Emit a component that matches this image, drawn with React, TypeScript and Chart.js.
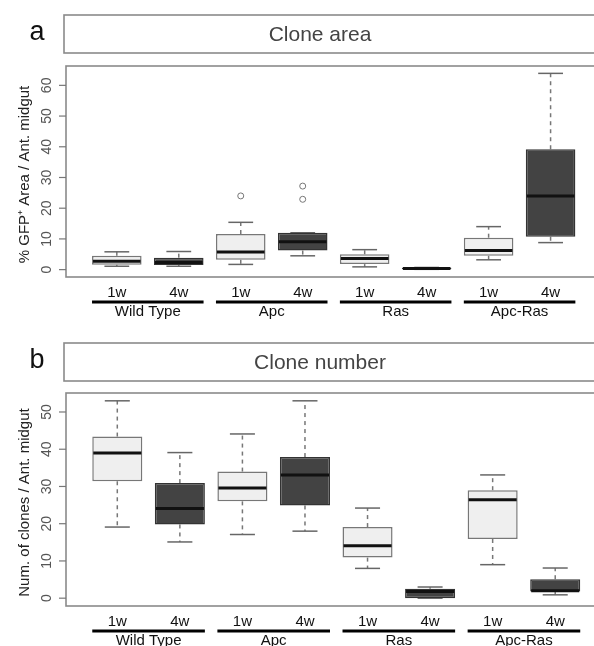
import React, { useEffect, useRef } from "react";
import { Chart, registerables } from "chart.js";
Chart.register(...registerables);

// ---------- data ----------
const groups = ["Wild Type", "Apc", "Ras", "Apc-Ras"];
const times = ["1w", "4w"];
const positions = [1, 2, 3, 4, 5, 6, 7, 8];

// Panel a: Clone area (% GFP+ area)
const areaLow = [1.1, 1.1, 1.7, 4.5, 0.9, 0.1, 3.2, 8.8];
const areaQ1 = [1.6, 1.5, 3.2, 6.2, 1.8, 0.2, 4.5, 10.7];
const areaMed = [2.7, 2.3, 5.7, 9.1, 3.6, 0.4, 6.2, 24.0];
const areaQ3 = [4.5, 3.9, 11.6, 12.0, 5.0, 0.6, 10.4, 39.2];
const areaHigh = [5.8, 5.9, 15.4, 12.0, 6.5, 0.7, 14.0, 63.9];
const areaOutlierPos = [3, 4, 4];
const areaOutlierVal = [24.0, 22.9, 27.2];
const areaTicks = [0, 10, 20, 30, 40, 50, 60];

// Panel b: Clone number
const numLow = [19.1, 15.1, 17.1, 18.0, 8.0, 0.0, 9.0, 0.9];
const numQ1 = [31.4, 19.8, 26.0, 24.9, 10.9, 0.0, 15.9, 1.8];
const numMed = [39.0, 24.1, 29.6, 33.1, 14.1, 1.8, 26.4, 2.0];
const numQ3 = [43.4, 30.9, 34.0, 37.9, 19.1, 2.5, 29.0, 5.1];
const numHigh = [53.0, 39.1, 44.1, 53.0, 24.2, 3.0, 33.1, 8.1];
const numOutlierPos: number[] = [];
const numOutlierVal: number[] = [];
const numTicks = [0, 10, 20, 30, 40, 50];

// ---------- styling ----------
const W = 594;
const H = 328;
const FONT = "'Liberation Sans', Arial, Helvetica, sans-serif";
const LIGHT = "#efefef";
const DARK = "#434343";

type Panel = {
  letter: string;
  title: string;
  yTitle: string;
  low: number[];
  q1: number[];
  med: number[];
  q3: number[];
  high: number[];
  outPos: number[];
  outVal: number[];
  ticks: number[];
  yMin: number;
  yMax: number;
  plotTop: number;
  plotBottom: number;
};

const panelA: Panel = {
  letter: "a",
  title: "Clone area",
  yTitle: "% GFP\u207A Area / Ant. midgut",
  low: areaLow,
  q1: areaQ1,
  med: areaMed,
  q3: areaQ3,
  high: areaHigh,
  outPos: areaOutlierPos,
  outVal: areaOutlierVal,
  ticks: areaTicks,
  yMin: -2.4,
  yMax: 66.3,
  plotTop: 66,
  plotBottom: 277,
};

const panelB: Panel = {
  letter: "b",
  title: "Clone number",
  yTitle: "Num. of clones / Ant. midgut",
  low: numLow,
  q1: numQ1,
  med: numMed,
  q3: numQ3,
  high: numHigh,
  outPos: numOutlierPos,
  outVal: numOutlierVal,
  ticks: numTicks,
  yMin: -2.1,
  yMax: 55.1,
  plotTop: 65,
  plotBottom: 278,
};

function makePlugin(p: Panel) {
  const line = (ctx: CanvasRenderingContext2D, x1: number, y1: number, x2: number, y2: number) => {
    ctx.beginPath();
    ctx.moveTo(x1, y1);
    ctx.lineTo(x2, y2);
    ctx.stroke();
  };
  return {
    id: "boxDecor",
    beforeDatasetsDraw(chart: any) {
      const ctx: CanvasRenderingContext2D = chart.ctx;
      const xs = chart.scales.x;
      const ys = chart.scales.y;
      const meta = chart.getDatasetMeta(0);
      ctx.save();
      positions.forEach((pos, i) => {
        const bar = meta.data[i];
        const half = bar.width / 2;
        const cx = xs.getPixelForValue(pos);
        const yLo = ys.getPixelForValue(p.low[i]);
        const yQ1 = ys.getPixelForValue(p.q1[i]);
        const yQ3 = ys.getPixelForValue(p.q3[i]);
        const yHi = ys.getPixelForValue(p.high[i]);
        ctx.strokeStyle = "#777";
        ctx.lineWidth = 1.5;
        ctx.setLineDash([4, 4]);
        line(ctx, cx, yQ3, cx, yHi);
        line(ctx, cx, yQ1, cx, yLo);
        ctx.setLineDash([]);
        ctx.strokeStyle = "#666";
        line(ctx, cx - half / 2, yHi, cx + half / 2, yHi);
        line(ctx, cx - half / 2, yLo, cx + half / 2, yLo);
      });
      ctx.restore();
    },
    afterDatasetsDraw(chart: any) {
      const ctx: CanvasRenderingContext2D = chart.ctx;
      const xs = chart.scales.x;
      const ys = chart.scales.y;
      const meta = chart.getDatasetMeta(0);
      ctx.save();
      ctx.strokeStyle = "#111";
      ctx.lineWidth = 3;
      positions.forEach((pos, i) => {
        const bar = meta.data[i];
        const half = bar.width / 2;
        const cx = xs.getPixelForValue(pos);
        const yM = ys.getPixelForValue(p.med[i]);
        line(ctx, cx - half + 1, yM, cx + half - 1, yM);
      });
      ctx.restore();
    },
    afterDraw(chart: any) {
      const ctx: CanvasRenderingContext2D = chart.ctx;
      const xs = chart.scales.x;
      const ys = chart.scales.y;
      const area = chart.chartArea;
      const meta = chart.getDatasetMeta(0);
      ctx.save();
      // plot frame (right side is outside the canvas)
      ctx.strokeStyle = "#8a8a8a";
      ctx.lineWidth = 1.6;
      ctx.strokeRect(area.left, area.top, area.right - area.left + 20, area.bottom - area.top);
      // strip
      ctx.strokeRect(64, 15, W, 38);
      ctx.fillStyle = "#444";
      ctx.font = `21px ${FONT}`;
      ctx.textAlign = "center";
      ctx.textBaseline = "middle";
      ctx.fillText(p.title, 320, 35);
      // letter
      ctx.fillStyle = "#111";
      ctx.font = `27px ${FONT}`;
      ctx.fillText(p.letter, 37, 33);
      // y ticks
      ctx.strokeStyle = "#777";
      ctx.lineWidth = 1.2;
      ctx.fillStyle = "#555";
      ctx.font = `14px ${FONT}`;
      p.ticks.forEach((v) => {
        const y = ys.getPixelForValue(v);
        line(ctx, area.left - 7, y, area.left, y);
        ctx.save();
        ctx.translate(47, y);
        ctx.rotate(-Math.PI / 2);
        ctx.fillText(String(v), 0, 0);
        ctx.restore();
      });
      // y title
      ctx.save();
      ctx.fillStyle = "#222";
      ctx.font = `15px ${FONT}`;
      ctx.translate(25, (area.top + area.bottom) / 2 + 3);
      ctx.rotate(-Math.PI / 2);
      ctx.fillText(p.yTitle, 0, 0);
      ctx.restore();
      // x labels
      ctx.fillStyle = "#111";
      ctx.font = `15px ${FONT}`;
      positions.forEach((pos, i) => {
        ctx.fillText(times[i % 2], xs.getPixelForValue(pos), area.bottom + 16);
      });
      ctx.strokeStyle = "#000";
      ctx.lineWidth = 3;
      groups.forEach((g, gi) => {
        const i1 = gi * 2;
        const i2 = gi * 2 + 1;
        const x1 = xs.getPixelForValue(positions[i1]) - meta.data[i1].width / 2;
        const x2 = xs.getPixelForValue(positions[i2]) + meta.data[i2].width / 2;
        line(ctx, x1, area.bottom + 25, x2, area.bottom + 25);
        ctx.fillText(g, (x1 + x2) / 2, area.bottom + 35);
      });
      ctx.restore();
    },
  };
}

function makeChart(canvas: HTMLCanvasElement, p: Panel) {
  const boxData = positions.map((pos, i) => ({ x: pos, y: [p.q1[i], p.q3[i]] }));
  const outData = p.outPos.map((pos, i) => ({ x: pos, y: p.outVal[i] }));
  return new Chart(canvas, {
    type: "bar",
    data: {
      datasets: [
        {
          type: "bar",
          label: "boxes",
          data: boxData as any,
          backgroundColor: positions.map((_, i) => (i % 2 === 0 ? LIGHT : DARK)),
          borderColor: positions.map((_, i) => (i % 2 === 0 ? "#777" : "#333")),
          borderWidth: 1.5,
          borderSkipped: false,
          categoryPercentage: 1,
          barPercentage: 0.8,
          grouped: false,
        } as any,
        {
          type: "scatter",
          label: "outliers",
          data: outData,
          pointRadius: 3,
          pointStyle: "circle",
          borderColor: "#777",
          backgroundColor: "rgba(0,0,0,0)",
          borderWidth: 1,
        } as any,
      ],
    },
    options: {
      animation: false,
      responsive: false,
      maintainAspectRatio: false,
      events: [],
      layout: { padding: { left: 66, top: p.plotTop, right: 0, bottom: H - p.plotBottom } },
      plugins: { legend: { display: false }, tooltip: { enabled: false } },
      scales: {
        x: {
          type: "linear",
          display: false,
          min: 0.18,
          max: 8.62,
          offset: false,
          afterBuildTicks: (scale: any) => {
            scale.ticks = positions.map((v) => ({ value: v }));
          },
        },
        y: {
          type: "linear",
          display: false,
          min: p.yMin,
          max: p.yMax,
          afterBuildTicks: (scale: any) => {
            scale.ticks = p.ticks.map((v) => ({ value: v }));
          },
        },
      },
    },
    plugins: [makePlugin(p)],
  });
}

export default function App() {
  const refA = useRef<HTMLCanvasElement>(null);
  const refB = useRef<HTMLCanvasElement>(null);
  useEffect(() => {
    const ca = makeChart(refA.current!, panelA);
    const cb = makeChart(refB.current!, panelB);
    return () => {
      ca.destroy();
      cb.destroy();
    };
  }, []);
  const cstyle = (top: number): React.CSSProperties => ({
    display: "block",
    position: "absolute",
    left: 0,
    top,
    width: W,
    height: H,
  });
  return (
    <div
      style={{
        position: "absolute",
        left: 0,
        top: 0,
        width: W,
        height: 646,
        overflow: "hidden",
        background: "#fff",
      }}
    >
      <canvas ref={refA} width={W} height={H} style={cstyle(0)} />
      <canvas ref={refB} width={W} height={H} style={cstyle(328)} />
    </div>
  );
}
